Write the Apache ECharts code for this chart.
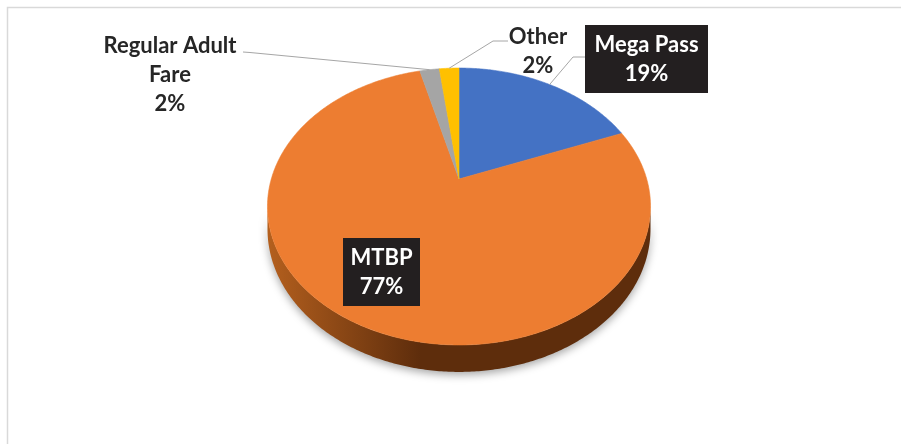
<!DOCTYPE html>
<html>
<head>
<meta charset="utf-8">
<script src="https://cdn.jsdelivr.net/npm/echarts@6/dist/echarts.min.js"></script>
<style>
  html, body { margin: 0; padding: 0; background: #ffffff; }
  #chart { width: 901px; height: 444px; }
</style>
</head>
<body>
<div id="chart"></div>
<script>
// Fare type shares
const categories = ['Mega Pass', 'MTBP', 'Regular Adult\nFare', 'Other'];
const values = [19, 77, 2, 2];

// Slice colours (top face) and side colours
const topColors = ['#4472C4', '#ED7D31', '#A5A5A5', '#FFC000'];
const sideLight = ['#2f5597', '#b5601e', '#7f7f7f', '#bf9000'];
const sideDark = ['#203864', '#5e2d0c', '#525252', '#7f6000'];

// Tilted-disc projection: centre, radii, perspective strength, thickness
const VIEW = { cx: 459, cy: 179, a: 187.7, b: 133, p: 0.1986, depth: 21.6 };

// Label placement (layout only)
const LABEL_LAYOUT = [
  { box: [585, 25, 123, 68], start: [585, 57], knee: [573, 57], color: '#ffffff' },
  { box: [343, 238, 77, 68], start: null, knee: null, color: '#ffffff' },
  { center: [170, 75], start: [243, 52], knee: [250, 52.5], color: '#262626' },
  { center: [538, 51], start: [508, 41], knee: [493, 41], color: '#262626' }
];
const FONT = 'bold 22px Lato';
const LINE_H = 29;

const total = values.reduce((s, v) => s + v, 0);
const cumulative = [0];
values.forEach((v, i) => cumulative.push(cumulative[i] + v));

// angle measured clockwise from 12 o'clock
function proj(theta, r, drop) {
  const u = r * Math.sin(theta);
  const v = -r * Math.cos(theta);
  const w = 1 - VIEW.p * v;
  return [VIEW.cx + VIEW.a * u / w, VIEW.cy + VIEW.b * v / w + (drop ? VIEW.depth / w : 0)];
}
function arc(a0, a1, drop) {
  const pts = [];
  const n = Math.max(2, Math.ceil(Math.abs(a1 - a0) / 0.01));
  for (let k = 0; k <= n; k++) pts.push(proj(a0 + (a1 - a0) * k / n, 1, drop));
  return pts;
}
function sliceAngles(i) {
  return [cumulative[i] / total * 2 * Math.PI, cumulative[i + 1] / total * 2 * Math.PI];
}

// visible part of the rim runs from the rightmost to the leftmost silhouette point
const FRONT_START = Math.acos(-VIEW.p);
const FRONT_END = 2 * Math.PI - FRONT_START;

const chart = echarts.init(document.getElementById('chart'), null, { renderer: 'canvas' });

const seriesData = values.map((v, i) => ({ name: categories[i], value: v }));

chart.setOption({
  animation: false,
  backgroundColor: '#ffffff',
  graphic: [{
    type: 'polyline',
    shape: { points: [[7.5, 444], [7.5, 7.5], [901, 7.5]] },
    style: { stroke: '#d9d9d9', lineWidth: 1.5, fill: null },
    silent: true
  }],
  series: [
    {
      // side wall
      type: 'custom',
      coordinateSystem: 'none',
      z: 1,
      data: seriesData,
      renderItem: function (params, api) {
        const i = params.dataIndex;
        const [a0, a1] = sliceAngles(i);
        const s = Math.max(a0, FRONT_START), e = Math.min(a1, FRONT_END);
        if (e <= s) return null;
        const top = arc(s, e, false);
        const bottom = arc(e, s, true);
        return {
          type: 'polygon',
          shape: { points: top.concat(bottom) },
          style: {
            fill: {
              type: 'linear', global: true,
              x: VIEW.cx - VIEW.a * 1.03, y: 0, x2: VIEW.cx + VIEW.a * 1.03, y2: 0,
              colorStops: [
                { offset: 0, color: sideLight[i] },
                { offset: 0.4, color: sideDark[i] },
                { offset: 1, color: sideDark[i] }
              ]
            },
            shadowBlur: 8,
            shadowOffsetY: 3,
            shadowColor: 'rgba(0,0,0,0.35)'
          }
        };
      }
    },
    {
      // top faces, labels and leader lines
      type: 'custom',
      coordinateSystem: 'none',
      z: 2,
      data: seriesData,
      renderItem: function (params, api) {
        const i = params.dataIndex;
        const [a0, a1] = sliceAngles(i);
        const pts = [proj(0, 0, false)].concat(arc(a0, a1, false));
        const children = [{
          type: 'polygon',
          shape: { points: pts },
          style: { fill: topColors[i], stroke: topColors[i], lineWidth: 0.6 }
        }];
        const L = LABEL_LAYOUT[i];
        const text = categories[i] + '\n' + api.value(0) + '%';
        if (L.start) {
          const end = proj((a0 + a1) / 2, 1, false);
          children.push({
            type: 'polyline',
            shape: { points: [L.start, L.knee, end] },
            style: { stroke: '#a6a6a6', lineWidth: 1, fill: null },
            z2: 5
          });
        }
        let cx, cy;
        if (L.box) {
          children.push({
            type: 'rect',
            shape: { x: L.box[0], y: L.box[1], width: L.box[2], height: L.box[3] },
            style: { fill: '#231f20' },
            z2: 6
          });
          cx = L.box[0] + L.box[2] / 2;
          cy = L.box[1] + L.box[3] / 2;
        } else {
          cx = L.center[0];
          cy = L.center[1];
        }
        children.push({
          type: 'text',
          x: cx, y: cy,
          style: {
            text: text,
            font: FONT,
            lineHeight: LINE_H,
            fill: L.color,
            align: 'center',
            verticalAlign: 'middle'
          },
          z2: 7
        });
        return { type: 'group', children: children };
      }
    }
  ]
});
</script>
</body>
</html>
